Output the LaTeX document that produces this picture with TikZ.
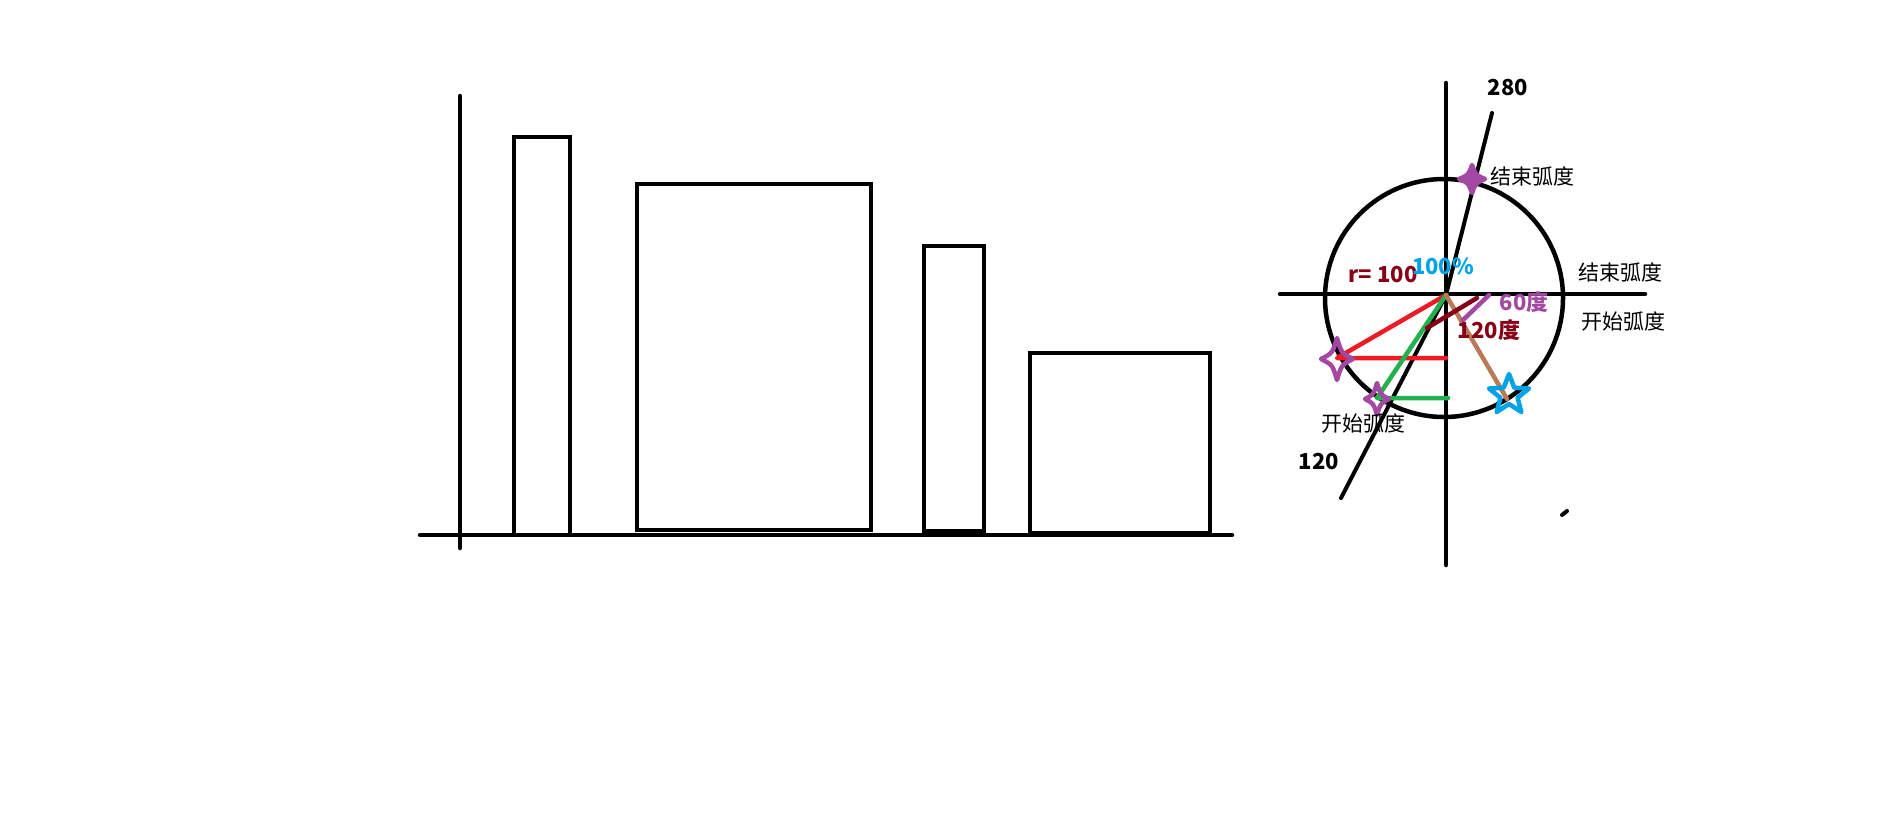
\documentclass[tikz,border=0pt]{standalone}
\usepackage{fontspec}
\setmainfont{Noto Sans CJK SC}
\definecolor{pred}{HTML}{ED1C24}
\definecolor{pgreen}{HTML}{22B14C}
\definecolor{pdred}{HTML}{880015}
\definecolor{ppurple}{HTML}{A349A4}
\definecolor{pbrown}{HTML}{B97A57}
\definecolor{pcyan}{HTML}{00A2E8}
\tikzset{
  blk/.style={draw=black, line width=4.5pt},
  bar/.style={draw=black, line width=4.5pt},
  col/.style={line width=4.5pt},
  sparkle/.style={draw=ppurple, line width=4.5pt, line join=round},
  cyanstar/.style={draw=pcyan, line width=4.5pt, line join=round},
  lbl/.style={inner sep=0pt, font=\fontsize{22}{26}\selectfont\bfseries},
  cjk/.style={inner sep=0pt, font=\fontsize{21}{25}\selectfont},
}
\newcommand\spark[5]{%
  \draw[#1] (#2,{#3-#5}) .. controls ({#2+0.28*#4},{#3-0.28*#5}) .. ({#2+#4},#3)
    .. controls ({#2+0.28*#4},{#3+0.28*#5}) .. (#2,{#3+#5})
    .. controls ({#2-0.28*#4},{#3+0.28*#5}) .. ({#2-#4},#3)
    .. controls ({#2-0.28*#4},{#3-0.28*#5}) .. cycle;}
\begin{document}
\begin{tikzpicture}[x=1pt,y=-1pt]
\useasboundingbox[fill=white] (0,0) rectangle (1884,839);
% bar chart
\draw[bar] (514,535) rectangle (570,137);
\draw[bar] (637,530) rectangle (871,184);
\draw[bar] (924,531) rectangle (984,246);
\draw[bar] (1030,533) rectangle (1210,353);
\draw[blk, line cap=round] (460,96) -- (460,548);
\draw[blk, line cap=round] (420,535) -- (1232,535);
% circle chart
\coordinate (O) at (1446,295);
\coordinate (p280) at (1492,113);
\coordinate (p120) at (1341,498);
\draw[blk] (1444,298) circle (119);
\draw[blk, line cap=round] (1446,83) -- (1446,565);
\draw[blk, line cap=round] (1280,294) -- (1645,294);
\draw[blk, line width=4pt, line cap=round] (O) -- (p280);
\draw[blk, line width=4pt, line cap=round] (O) -- (p120);
\draw[blk, line width=4pt, line cap=round] (1562,515) -- (1567,511);
% coloured lines
\coordinate (A) at (1337,358);
\coordinate (Ah) at (1446,358);
\coordinate (B) at (1377,398);
\coordinate (Bh) at (1448,398);
\coordinate (S) at (1507,399);
\draw[col, draw=pred, line cap=round, line join=round] (O) -- (A) -- (Ah);
\draw[col, draw=pgreen, line cap=round, line join=round] (O) -- (B) -- (Bh);
\draw[col, draw=pbrown, line cap=round] (O) -- (S);
\coordinate (d1) at (1427,328);
\coordinate (d2) at (1477,298);
\draw[col, draw=pdred, line cap=round] (d1) -- (d2);
\coordinate (m1) at (1463,320);
\coordinate (m2) at (1489,295);
\draw[col, draw=ppurple, line cap=round] (m1) -- (m2);
% stars
\spark{sparkle, fill=ppurple}{1472}{179}{13}{14}
\spark{sparkle}{1337}{359}{16}{21}
\spark{sparkle}{1377}{399}{12}{16}
\begin{scope}[shift={(1509,395)}]
\draw[cyanstar] (-90:21) -- (-54:9) -- (-18:21) -- (18:9) -- (54:21) -- (90:9)
  -- (126:21) -- (162:9) -- (198:21) -- (234:9) -- cycle;
\end{scope}
% labels
\node[lbl] (t280) at (1508,88) {280};
\node[lbl] (t120) at (1319,462) {120};
\node[cjk] (endtop) at (1532,176) {结束弧度};
\node[cjk] (endright) at (1620,272) {结束弧度};
\node[cjk] (startright) at (1623,322) {开始弧度};
\node[cjk] (startlow) at (1363,423) {开始弧度};
\node[lbl, text=pdred] (r100) at (1383,275) {r= 100};
\node[lbl, text=pcyan] (pct) at (1443,266) {100\%};
\node[lbl, text=ppurple] (d60) at (1524,302) {60度};
\node[lbl, text=pdred] (d120) at (1489,330) {120度};
\end{tikzpicture}
\end{document}
